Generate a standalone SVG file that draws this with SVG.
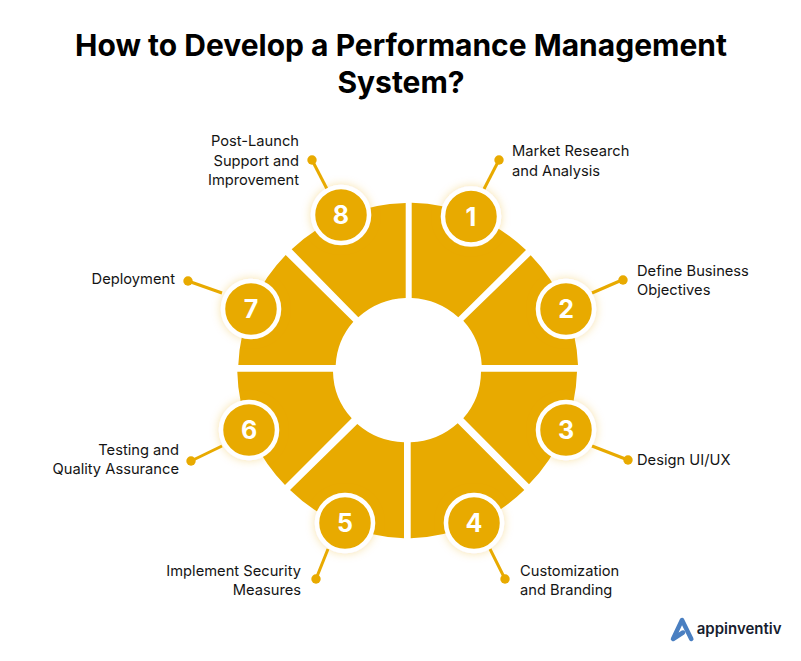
<svg xmlns="http://www.w3.org/2000/svg" width="801" height="661" viewBox="0 0 801 661">
<style>
text{font-family:Inter,"Liberation Sans",sans-serif}
.t{font-size:30px;font-weight:700;fill:#000;text-anchor:middle}
.l{font-size:14.7px;font-weight:400;fill:#141414}
.e{text-anchor:end}
.n{font-size:25px;font-weight:700;fill:#fff;text-anchor:middle}
.s{fill:#e8aa00}
.c{fill:#e8aa00;stroke:#fff;stroke-width:4.5;filter:url(#g)}
.k{stroke:#e8aa00;stroke-width:3;fill:none}
.d{fill:#e8aa00}
</style>
<defs>
<filter id="g" x="-40%" y="-40%" width="180%" height="180%"><feDropShadow dx="0" dy="0" stdDeviation="5" flood-color="#e8aa00" flood-opacity="0.35"/></filter>
</defs>
<rect width="801" height="661" fill="#fff"/>
<g id="title">
<text class="t" x="401" y="55.5">How to Develop a Performance Management</text>
<text class="t" x="401" y="92.5">System?</text>
</g>
<g id="connectors">
<path class="k" d="M484 189L499 160"/><circle class="d" cx="499" cy="160" r="4.7"/>
<path class="k" d="M592 293L622 280"/><circle class="d" cx="623" cy="280" r="4.7"/>
<path class="k" d="M592 446L628 460"/><circle class="d" cx="628" cy="460" r="4.7"/>
<path class="k" d="M490 549L505 579"/><circle class="d" cx="505" cy="579" r="4.7"/>
<path class="k" d="M328 549L316 579"/><circle class="d" cx="316" cy="579" r="4.7"/>
<path class="k" d="M222 446L191 461"/><circle class="d" cx="191" cy="461" r="4.7"/>
<path class="k" d="M222 293L188 281"/><circle class="d" cx="188" cy="281" r="4.7"/>
<path class="k" d="M327 189L312 160"/><circle class="d" cx="312" cy="160" r="4.7"/>
</g>
<g id="segments">
<path class="s" d="M411.7 202.7A170 168 0 0 1 526 250L458.3 317.3A73.5 72 0 0 0 411.7 298Z"/>
<path class="s" d="M530.7 255.3A170 168 0 0 1 578 365L481.7 365A73.5 72 0 0 0 463.3 320.7Z"/>
<path class="s" d="M577 371.7A170 168 0 0 1 529 484.3L463.3 418.3A73.5 72 0 0 0 481 371.7Z"/>
<path class="s" d="M524.3 490A170 168 0 0 1 410.7 538.3L410.7 442.3A73.5 72 0 0 0 457.7 423.3Z"/>
<path class="s" d="M404 538.3A170 168 0 0 1 290 490L357.3 424A73.5 72 0 0 0 404 442.3Z"/>
<path class="s" d="M285 485A170 168 0 0 1 237.3 371.7L333 371.7A73.5 72 0 0 0 351.7 418.3Z"/>
<path class="s" d="M238.3 365A170 168 0 0 1 285.7 255L353.3 321.7A73.5 72 0 0 0 335.7 365Z"/>
<path class="s" d="M291.7 249.3A170 168 0 0 1 405.7 203L405.7 298A73.5 72 0 0 0 358.3 317.3Z"/>
</g>
<g id="node1"><circle class="c" cx="471" cy="216.5" r="28"/><text class="n" x="471" y="225.5">1</text><text class="l" x="512" y="156">Market Research</text><text class="l" x="512" y="176">and Analysis</text></g>
<g id="node2"><circle class="c" cx="566" cy="309" r="28"/><text class="n" x="566" y="318">2</text><text class="l" x="637" y="276">Define Business</text><text class="l" x="637" y="295">Objectives</text></g>
<g id="node3"><circle class="c" cx="566" cy="430" r="28"/><text class="n" x="566" y="439">3</text><text class="l" x="637" y="465">Design UI/UX</text></g>
<g id="node4"><circle class="c" cx="474" cy="523" r="28"/><text class="n" x="474" y="532">4</text><text class="l" x="520" y="576">Customization</text><text class="l" x="520" y="595">and Branding</text></g>
<g id="node5"><circle class="c" cx="345" cy="523" r="28"/><text class="n" x="345" y="532">5</text><text class="l e" x="301" y="576">Implement Security</text><text class="l e" x="301" y="595">Measures</text></g>
<g id="node6"><circle class="c" cx="249" cy="430" r="28"/><text class="n" x="249" y="439">6</text><text class="l e" x="179" y="455">Testing and</text><text class="l e" x="179" y="474">Quality Assurance</text></g>
<g id="node7"><circle class="c" cx="251" cy="309" r="28"/><text class="n" x="251" y="318">7</text><text class="l e" x="175" y="284">Deployment</text></g>
<g id="node8"><circle class="c" cx="341" cy="215" r="28"/><text class="n" x="341" y="224">8</text><text class="l e" x="299" y="146">Post-Launch</text><text class="l e" x="299" y="166">Support and</text><text class="l e" x="299" y="185">Improvement</text></g>
<g id="logo">
<path d="M691.3 639L682 620L673 639L683 632.5" fill="none" stroke="#4a7fc1" stroke-width="4.5" stroke-linejoin="round" stroke-linecap="round"/>
<text x="696.7" y="634" font-size="15" font-weight="600" fill="#16202e">appinventiv</text>
</g>
</svg>
